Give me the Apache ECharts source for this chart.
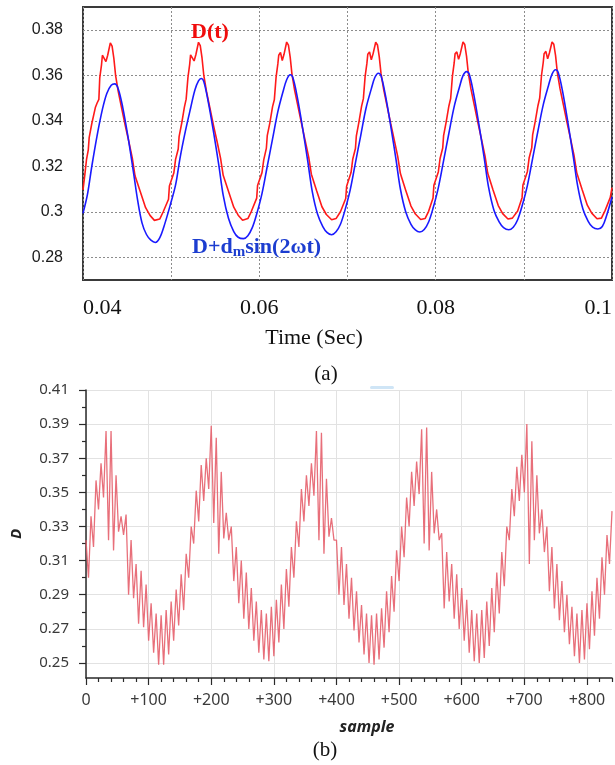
<!DOCTYPE html>
<html>
<head>
<meta charset="utf-8">
<script src="https://cdn.jsdelivr.net/npm/echarts@6/dist/echarts.min.js"></script>
<style>
  html, body { margin: 0; padding: 0; background: #fff; }
  #main { width: 615px; height: 765px; }
</style>
</head>
<body>
<div id="main"></div>
<script>
// ---------- (a) duty ratio D(t) and its sinusoidal approximation ----------
const timeDt = [
  0.0400, 0.0402, 0.0404, 0.0406, 0.0407, 0.0410, 0.0414, 0.0416, 0.0418, 0.0419, 0.0421, 0.0422, 0.0424, 0.0426, 0.0428, 0.0431, 0.0433, 0.0435, 0.0437, 0.0440, 0.0444, 0.0448, 0.0452, 0.0456, 0.0459, 0.0465, 0.0471, 0.0476, 0.0481, 0.0487,
  0.0491, 0.0497, 0.0498, 0.0503, 0.0505, 0.0508, 0.0509, 0.0512, 0.0515, 0.0517, 0.0519, 0.0521, 0.0522, 0.0524, 0.0526, 0.0528, 0.0531, 0.0533, 0.0535, 0.0537, 0.0540, 0.0544, 0.0548, 0.0552, 0.0556, 0.0559, 0.0565, 0.0571, 0.0576, 0.0581, 0.0587,
  0.0591, 0.0597, 0.0598, 0.0603, 0.0605, 0.0608, 0.0609, 0.0612, 0.0615, 0.0617, 0.0619, 0.0621, 0.0622, 0.0624, 0.0626, 0.0628, 0.0631, 0.0633, 0.0635, 0.0637, 0.0640, 0.0644, 0.0648, 0.0652, 0.0656, 0.0659, 0.0665, 0.0671, 0.0676, 0.0682, 0.0687,
  0.0692, 0.0698, 0.0699, 0.0704, 0.0706, 0.0709, 0.0710, 0.0713, 0.0716, 0.0718, 0.0720, 0.0722, 0.0723, 0.0725, 0.0727, 0.0729, 0.0732, 0.0734, 0.0736, 0.0738, 0.0741, 0.0745, 0.0749, 0.0753, 0.0757, 0.0760, 0.0766, 0.0772, 0.0777, 0.0783, 0.0788,
  0.0792, 0.0797, 0.0798, 0.0803, 0.0805, 0.0808, 0.0809, 0.0812, 0.0815, 0.0817, 0.0819, 0.0821, 0.0822, 0.0824, 0.0826, 0.0828, 0.0831, 0.0833, 0.0835, 0.0837, 0.0840, 0.0844, 0.0848, 0.0852, 0.0856, 0.0859, 0.0865, 0.0871, 0.0876, 0.0882, 0.0887,
  0.0893, 0.0898, 0.0899, 0.0904, 0.0906, 0.0909, 0.0910, 0.0913, 0.0916, 0.0918, 0.0920, 0.0922, 0.0923, 0.0925, 0.0927, 0.0929, 0.0932, 0.0934, 0.0936, 0.0938, 0.0941, 0.0945, 0.0949, 0.0953, 0.0957, 0.0960, 0.0966, 0.0972, 0.0977, 0.0983, 0.0988,
  0.0992, 0.0998, 0.1000
];
const dutyDt = [
  0.3096, 0.3160, 0.3230, 0.3272, 0.3326, 0.3388, 0.3458, 0.3478, 0.3494, 0.3588, 0.3646, 0.3688, 0.3695, 0.3660, 0.3688, 0.3742, 0.3728, 0.3674, 0.3598, 0.3528, 0.3452, 0.3378, 0.3308, 0.3234, 0.3158, 0.3088, 0.3018, 0.2984, 0.2962, 0.2968,
  0.3000, 0.3055, 0.3113, 0.3170, 0.3230, 0.3276, 0.3330, 0.3390, 0.3460, 0.3495, 0.3589, 0.3648, 0.3690, 0.3697, 0.3663, 0.3690, 0.3745, 0.3730, 0.3676, 0.3600, 0.3530, 0.3455, 0.3380, 0.3310, 0.3236, 0.3160, 0.3090, 0.3020, 0.2985, 0.2963, 0.2970,
  0.3002, 0.3060, 0.3115, 0.3172, 0.3228, 0.3280, 0.3335, 0.3392, 0.3462, 0.3492, 0.3592, 0.3650, 0.3688, 0.3700, 0.3665, 0.3692, 0.3746, 0.3732, 0.3680, 0.3605, 0.3535, 0.3460, 0.3385, 0.3312, 0.3240, 0.3165, 0.3092, 0.3022, 0.2988, 0.2965, 0.2970,
  0.3000, 0.3058, 0.3112, 0.3172, 0.3232, 0.3278, 0.3332, 0.3395, 0.3464, 0.3497, 0.3595, 0.3652, 0.3692, 0.3702, 0.3668, 0.3694, 0.3745, 0.3733, 0.3682, 0.3608, 0.3538, 0.3462, 0.3388, 0.3316, 0.3242, 0.3168, 0.3095, 0.3025, 0.2990, 0.2966, 0.2970,
  0.3002, 0.3060, 0.3116, 0.3175, 0.3234, 0.3280, 0.3335, 0.3396, 0.3465, 0.3498, 0.3596, 0.3654, 0.3694, 0.3703, 0.3670, 0.3696, 0.3746, 0.3735, 0.3684, 0.3610, 0.3540, 0.3465, 0.3390, 0.3318, 0.3244, 0.3170, 0.3097, 0.3027, 0.2992, 0.2968, 0.2972,
  0.3003, 0.3062, 0.3118, 0.3176, 0.3236, 0.3282, 0.3338, 0.3398, 0.3466, 0.3500, 0.3598, 0.3656, 0.3695, 0.3705, 0.3672, 0.3698, 0.3746, 0.3736, 0.3686, 0.3612, 0.3542, 0.3468, 0.3392, 0.3320, 0.3246, 0.3172, 0.3099, 0.3029, 0.2994, 0.2969, 0.2972,
  0.3004, 0.3062, 0.3106
];

const timeSine = [
  0.0400, 0.0405, 0.0410, 0.0416, 0.0422, 0.0427, 0.0432, 0.0436, 0.0440, 0.0445, 0.0451, 0.0457, 0.0462, 0.0467, 0.0472, 0.0477, 0.0482,
  0.0487, 0.0493, 0.0499, 0.0505, 0.0510, 0.0516, 0.0522, 0.0527, 0.0531, 0.0534, 0.0537, 0.0542, 0.0548, 0.0554, 0.0559, 0.0565, 0.0571, 0.0576, 0.0582,
  0.0587, 0.0592, 0.0597, 0.0603, 0.0609, 0.0615, 0.0621, 0.0627, 0.0631, 0.0635, 0.0638, 0.0643, 0.0649, 0.0655, 0.0660, 0.0666, 0.0672, 0.0677, 0.0682,
  0.0687, 0.0692, 0.0697, 0.0703, 0.0709, 0.0715, 0.0721, 0.0727, 0.0731, 0.0735, 0.0738, 0.0743, 0.0749, 0.0755, 0.0760, 0.0766, 0.0772, 0.0777, 0.0782,
  0.0787, 0.0792, 0.0797, 0.0803, 0.0809, 0.0815, 0.0821, 0.0827, 0.0831, 0.0835, 0.0838, 0.0843, 0.0849, 0.0855, 0.0860, 0.0866, 0.0872, 0.0877, 0.0883,
  0.0888, 0.0893, 0.0898, 0.0904, 0.0910, 0.0916, 0.0922, 0.0928, 0.0932, 0.0936, 0.0939, 0.0944, 0.0950, 0.0956, 0.0961, 0.0967, 0.0973, 0.0978, 0.0984,
  0.0989, 0.0994, 0.1000
];
const dutySine = [
  0.2993, 0.3075, 0.3200, 0.3335, 0.3450, 0.3520, 0.3556, 0.3562, 0.3540, 0.3460, 0.3330, 0.3180, 0.3050, 0.2950, 0.2900, 0.2875, 0.2865,
  0.2885, 0.2950, 0.3030, 0.3118, 0.3235, 0.3352, 0.3455, 0.3536, 0.3575, 0.3586, 0.3573, 0.3484, 0.3352, 0.3206, 0.3073, 0.2971, 0.2913, 0.2888, 0.2882,
  0.2895, 0.2930, 0.2990, 0.3080, 0.3200, 0.3320, 0.3440, 0.3530, 0.3580, 0.3602, 0.3590, 0.3505, 0.3370, 0.3220, 0.3090, 0.2990, 0.2935, 0.2908, 0.2899,
  0.2912, 0.2945, 0.3005, 0.3095, 0.3215, 0.3335, 0.3455, 0.3540, 0.3590, 0.3609, 0.3598, 0.3512, 0.3378, 0.3230, 0.3100, 0.3000, 0.2945, 0.2920, 0.2911,
  0.2922, 0.2955, 0.3015, 0.3105, 0.3225, 0.3345, 0.3462, 0.3548, 0.3598, 0.3616, 0.3605, 0.3520, 0.3385, 0.3238, 0.3108, 0.3008, 0.2955, 0.2930, 0.2921,
  0.2932, 0.2965, 0.3025, 0.3115, 0.3235, 0.3355, 0.3470, 0.3555, 0.3605, 0.3624, 0.3612, 0.3528, 0.3392, 0.3245, 0.3115, 0.3012, 0.2958, 0.2932, 0.2924,
  0.2935, 0.2985, 0.3065
];

const timeTicksA = [0.04, 0.06, 0.08, 0.1];
const dutyTicksA = [0.28, 0.30, 0.32, 0.34, 0.36, 0.38];

// ---------- (b) sampled duty ratio D, upper/lower swing per stroke ----------
const BAND_STEP = 8; // samples between successive upper peaks
const bandTop = [
  0.322, 0.336, 0.357, 0.367, 0.386, 0.386, 0.360, 0.336, 0.337, 0.322, 0.308, 0.304, 0.296, 0.285, 0.279, 0.278, 0.281, 0.286, 0.293, 0.302, 0.314, 0.330,
  0.351, 0.366, 0.370, 0.389, 0.382, 0.362, 0.338, 0.330, 0.318, 0.310, 0.303, 0.294, 0.286, 0.281, 0.279, 0.283, 0.287, 0.296, 0.305, 0.318, 0.333,
  0.352, 0.360, 0.367, 0.386, 0.385, 0.358, 0.335, 0.322, 0.318, 0.308, 0.300, 0.292, 0.284, 0.279, 0.278, 0.279, 0.282, 0.292, 0.301, 0.316, 0.330,
  0.347, 0.362, 0.368, 0.387, 0.388, 0.362, 0.340, 0.326, 0.315, 0.308, 0.302, 0.294, 0.287, 0.281, 0.279, 0.281, 0.286, 0.294, 0.303, 0.315, 0.330,
  0.352, 0.365, 0.372, 0.390, 0.380, 0.360, 0.340, 0.330, 0.318, 0.308, 0.298, 0.290, 0.283, 0.279, 0.281, 0.285, 0.292, 0.300, 0.312, 0.325, 0.339
];
const bandBottom = [
  0.300, 0.318, 0.340, 0.347, 0.322, 0.316, 0.327, 0.325, 0.290, 0.288, 0.273, 0.271, 0.263, 0.256, 0.249, 0.249, 0.255, 0.263, 0.272, 0.281, 0.300,
  0.320, 0.333, 0.345, 0.352, 0.332, 0.314, 0.323, 0.322, 0.298, 0.285, 0.276, 0.270, 0.263, 0.256, 0.252, 0.251, 0.254, 0.262, 0.270, 0.283, 0.300,
  0.318, 0.333, 0.342, 0.348, 0.322, 0.314, 0.324, 0.322, 0.290, 0.284, 0.276, 0.269, 0.262, 0.255, 0.250, 0.249, 0.252, 0.259, 0.268, 0.280, 0.298,
  0.312, 0.330, 0.342, 0.349, 0.320, 0.316, 0.326, 0.322, 0.282, 0.286, 0.276, 0.270, 0.263, 0.256, 0.251, 0.250, 0.253, 0.260, 0.268, 0.279, 0.295,
  0.322, 0.336, 0.345, 0.350, 0.308, 0.322, 0.326, 0.315, 0.292, 0.282, 0.275, 0.268, 0.261, 0.254, 0.250, 0.252, 0.258, 0.266, 0.276, 0.290, 0.308
];

const sampleTicksB = [0, 100, 200, 300, 400, 500, 600, 700, 800];
const sampleMinorB = [20, 40, 60, 80, 120, 140, 160, 180, 220, 240, 260, 280, 320, 340, 360, 380, 420, 440, 460, 480, 520, 540, 560, 580, 620, 640, 660, 680, 720, 740, 760, 780, 820, 840];
const dutyTicksB = [0.25, 0.27, 0.29, 0.31, 0.33, 0.35, 0.37, 0.39, 0.41];
const dutyMinorB = [0.26, 0.28, 0.30, 0.32, 0.34, 0.36, 0.38, 0.40];

// ---------- build series data ----------
const pairs = (xs, ys) => xs.map((x, i) => [x, ys[i]]);
const dtPoints = pairs(timeDt, dutyDt);
const sinePoints = pairs(timeSine, dutySine);

const bandPoints = [];
bandTop.forEach((top, i) => {
  bandPoints.push([i * BAND_STEP, top]);
  if (i < bandBottom.length) bandPoints.push([i * BAND_STEP + BAND_STEP / 2, bandBottom[i]]);
});

const SERIF = '"Liberation Serif", "Times New Roman", serif';
const SANS = '"Liberation Sans", Arial, sans-serif';
const UI = '"Noto Sans", "Open Sans", sans-serif';
const DARK = '#2a2a2a';

const chart = echarts.init(document.getElementById('main'), null, { renderer: 'canvas' });

chart.setOption({
  animation: false,
  backgroundColor: '#ffffff',
  grid: [
    { left: 83, top: 7, width: 529, height: 273, show: true, borderColor: '#3a3a3a', borderWidth: 2,
      backgroundColor: 'transparent', outerBoundsMode: 'none', containLabel: false },
    { left: 86, top: 390, width: 526, height: 288, outerBoundsMode: 'none', containLabel: false }
  ],
  xAxis: [
    {
      gridIndex: 0, type: 'value', min: 0.04, max: 0.1, interval: 0.01,
      axisLine: { show: false }, axisTick: { show: false },
      splitLine: { show: true, lineStyle: { color: '#8c8c8c', width: 1, type: [2, 2] } },
      axisLabel: { customValues: timeTicksA, alignMinLabel: 'left', alignMaxLabel: 'right',
        fontFamily: SERIF, fontSize: 22, color: '#111', margin: 17 }
    },
    {
      gridIndex: 1, type: 'value', min: 0, max: 840, interval: 100, position: 'bottom',
      axisLine: { show: true, onZero: false, lineStyle: { color: DARK, width: 1.5 } },
      axisTick: { show: true, length: 7, customValues: sampleTicksB, lineStyle: { color: DARK, width: 1.2 } },
      splitLine: { show: true, lineStyle: { color: '#e2e2e2', width: 1 } },
      axisLabel: { customValues: sampleTicksB, formatter: v => (v === 0 ? '0' : '+' + v),
        fontFamily: UI, fontSize: 16, color: '#3a3a3a', margin: 14 }
    },
    {
      gridIndex: 1, type: 'value', min: 0, max: 840, position: 'bottom',
      axisLine: { show: false }, axisLabel: { show: false }, splitLine: { show: false },
      axisTick: { show: true, length: 4, customValues: sampleMinorB, lineStyle: { color: DARK, width: 1.2 } }
    }
  ],
  yAxis: [
    {
      gridIndex: 0, type: 'value', min: 0.27, max: 0.39, splitNumber: 6,
      axisLine: { show: false }, axisTick: { show: false, customValues: dutyTicksA },
      splitLine: { show: true, lineStyle: { color: '#8c8c8c', width: 1, type: [2, 2] } },
      axisLabel: { customValues: dutyTicksA, fontFamily: SANS, fontSize: 16, color: '#1a1a1a', margin: 20 }
    },
    {
      gridIndex: 1, type: 'value', min: 0.2412, max: 0.41, position: 'left',
      axisLine: { show: true, onZero: false, lineStyle: { color: DARK, width: 1.5 } },
      axisTick: { show: true, length: 7, customValues: dutyTicksB, lineStyle: { color: DARK, width: 1.2 } },
      splitLine: { show: true, lineStyle: { color: '#e2e2e2', width: 1 } },
      axisLabel: { customValues: dutyTicksB, fontFamily: UI, fontSize: 15, color: '#3a3a3a', margin: 17 },
      name: 'D', nameLocation: 'middle', nameGap: 62, nameRotate: 90,
      nameTextStyle: { fontFamily: UI, fontSize: 15, fontWeight: 'bold', fontStyle: 'italic', color: '#222' }
    },
    {
      gridIndex: 1, type: 'value', min: 0.2412, max: 0.41, position: 'left',
      axisLine: { show: false }, axisLabel: { show: false }, splitLine: { show: false },
      axisTick: { show: true, length: 4, customValues: dutyMinorB, lineStyle: { color: DARK, width: 1.2 } }
    }
  ],
  series: [
    {
      name: 'D(t)', type: 'line', xAxisIndex: 0, yAxisIndex: 0, data: dtPoints,
      showSymbol: false, symbol: 'none', lineStyle: { color: '#ff1a1a', width: 1.6 }, z: 3
    },
    {
      name: 'D+dm sin(2ωt)', type: 'line', xAxisIndex: 0, yAxisIndex: 0, data: sinePoints,
      showSymbol: false, symbol: 'none', smooth: 0.35, lineStyle: { color: '#1a1aff', width: 1.6 }, z: 4
    },
    {
      name: 'D', type: 'line', xAxisIndex: 1, yAxisIndex: 1, data: bandPoints,
      showSymbol: false, symbol: 'none', lineStyle: { color: '#e55f6c', width: 1.3, opacity: 0.9 }, z: 3
    }
  ],
  graphic: [
    { type: 'text', x: 210, y: 32, z: 10,
      style: { text: 'D(t)', font: 'bold 22px ' + SERIF, fill: '#f00c0c', align: 'center', verticalAlign: 'middle' } },
    { type: 'text', x: 192, y: 247, z: 10,
      style: {
        text: '{n|D+d}{s|m}{n|sin(2ωt)}', align: 'left', verticalAlign: 'middle',
        rich: {
          n: { font: 'bold 22px ' + SERIF, fill: '#1c3dd0', lineHeight: 26 },
          s: { font: 'bold 15px ' + SERIF, fill: '#1c3dd0', lineHeight: 15, verticalAlign: 'bottom' }
        }
      } },
    { type: 'text', x: 314, y: 338,
      style: { text: 'Time (Sec)', font: '22px ' + SERIF, fill: '#111', align: 'center', verticalAlign: 'middle' } },
    { type: 'text', x: 326, y: 374,
      style: { text: '(a)', font: '21px ' + SERIF, fill: '#111', align: 'center', verticalAlign: 'middle' } },
    { type: 'rect', shape: { x: 370, y: 386, width: 24, height: 3, r: 1.5 }, style: { fill: '#cfe5f6' } },
    { type: 'text', x: 367, y: 727,
      style: { text: 'sample', font: 'italic bold 16px ' + UI, fill: '#222', align: 'center', verticalAlign: 'middle' } },
    { type: 'text', x: 325, y: 750,
      style: { text: '(b)', font: '21px ' + SERIF, fill: '#111', align: 'center', verticalAlign: 'middle' } }
  ]
});
</script>
</body>
</html>
